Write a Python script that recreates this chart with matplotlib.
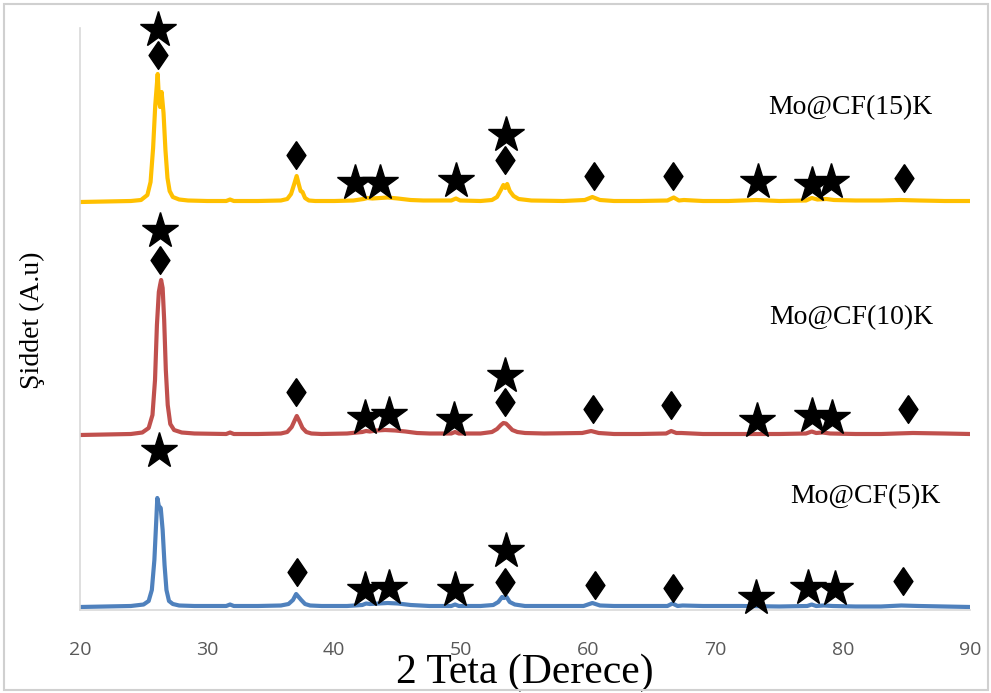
#!/usr/bin/env python3
"""XRD desenleri: Mo@CF(5)K, Mo@CF(10)K, Mo@CF(15)K (kaydirilmis egriler)."""

import matplotlib
matplotlib.use("Agg")
import matplotlib.pyplot as plt
from matplotlib.patches import Rectangle

# --- veriler (keyfi birim) ---------------------------------------------------
x_15 = [20, 22, 24, 24.8, 25.3, 25.55, 25.75, 25.92, 26.11, 26.22, 26.3, 26.42,
        26.57, 26.72, 26.88, 27.05, 27.3, 27.8, 28.5, 30, 31.5, 31.8, 32.1, 34,
        35.8, 36.3, 36.6, 36.85, 37.04, 37.2, 37.35, 37.5, 37.7, 38.0, 38.5, 40,
        41.5, 42.3, 42.6, 43.0, 43.6, 44.2, 45, 46, 47, 49.2, 49.57, 49.9, 51.5,
        52.4, 52.8, 53.1, 53.3, 53.45, 53.6, 53.8, 54.1, 54.5, 55.5, 58, 59.7,
        60.3, 60.9, 62, 64, 66.2, 66.7, 67.1, 67.5, 69, 71, 73.2, 75, 77.1,
        77.55, 78.0, 78.7, 79.3, 81, 83, 84.5, 86, 88, 90]
y_15 = [408, 408.5, 409, 410, 415, 428, 462, 505, 536, 508, 503, 518,
        497, 460, 432, 419, 413, 410.5, 409.5, 409, 409, 410.5, 409, 409,
        409.5, 411, 416, 426, 434, 426, 419, 418, 412, 409.5, 409, 409,
        409.5, 411, 412, 411.5, 412, 412.5, 411.5, 410, 409.5, 409.5, 411.5, 409.5, 409,
        410, 413, 420, 425, 422, 426, 419, 414, 411, 409.5, 409, 410,
        413, 410, 409, 409, 409.5, 412.5, 409.5, 410, 409, 409, 410, 409, 409.5,
        412, 410.5, 411, 410, 409.5, 409.5, 410, 409.5, 409, 409]

x_10 = [20, 22, 24, 24.9, 25.4, 25.7, 25.9, 26.05, 26.2, 26.3, 26.38, 26.5,
        26.62, 26.75, 26.9, 27.1, 27.4, 28, 29, 31.5, 31.8, 32.1, 34, 35.8,
        36.3, 36.65, 36.9, 37.05, 37.25, 37.5, 37.8, 38.2, 39, 41, 42.2, 42.5,
        42.8, 43.3, 44.0, 44.8, 45.6, 46.5, 47.5, 49.2, 49.5, 49.8, 51.5, 52.4,
        52.8, 53.1, 53.3, 53.5, 53.7, 54.0, 54.4, 55, 56.5, 59.5, 60.2, 60.8,
        62, 64, 66.1, 66.5, 66.9, 67.3, 69, 72, 75, 77.1, 77.55, 77.9,
        78.4, 79, 81, 83, 84.2, 85.5, 88, 90]
y_10 = [175, 175.5, 176, 177.5, 182, 195, 230, 285, 318, 325, 330, 322,
        290, 240, 205, 186, 180, 177.5, 176.5, 176, 177.5, 176, 176, 176.5,
        178, 183, 190, 194, 189, 182, 178, 176.5, 176, 176.5, 178, 179,
        178.5, 179.5, 180, 179.5, 178.5, 177, 176.5, 176.5, 178, 176.5, 176.5, 178,
        181, 185, 187, 186.5, 184, 180, 178, 177, 176.5, 177, 179, 177,
        176, 176, 176.5, 179, 177, 177, 176, 176, 176, 176.5, 178.5, 177,
        177.5, 176.5, 176, 176, 176.5, 177, 176.5, 176]

x_5 = [20, 22, 24, 25.0, 25.4, 25.65, 25.85, 26.0, 26.08, 26.2, 26.35, 26.5,
       26.65, 26.8, 27.0, 27.3, 27.8, 29, 31.5, 31.8, 32.1, 34, 35.8, 36.4,
       36.75, 37.0, 37.2, 37.4, 37.7, 38.1, 39, 41, 42.2, 42.5, 42.8, 43.5,
       44.2, 45, 46, 47.5, 49.2, 49.5, 49.8, 51.5, 52.5, 52.9, 53.2, 53.35,
       53.55, 53.8, 54.2, 55, 57, 59.6, 60.3, 60.9, 62, 64, 66.2, 66.6,
       67.0, 67.4, 69, 72, 75, 77.2, 77.55, 77.9, 78.5, 79.2, 81, 83,
       84.6, 86, 88, 90]
y_5 = [3, 3.5, 4, 5.5, 9, 20, 50, 90, 112, 104, 102, 80,
       45, 20, 9, 6, 4.5, 4, 4, 5.5, 4, 4, 4.5, 6,
       10, 16, 13, 10, 6, 4.5, 4, 4, 5, 6.5, 6, 6.5,
       7, 6.5, 5, 4, 4, 5.5, 4, 4, 5, 8, 13, 12,
       13, 8, 5.5, 4, 4, 4, 7, 4.5, 4, 4, 4, 6.5,
       4, 4.5, 4, 4, 3.5, 4, 5.5, 4, 4.5, 4, 3.5, 3.5,
       4.5, 4, 3.5, 3]

# isaretler (yildiz / elmas) - konumlar resimden
star_x = [26.17, 41.63, 43.6, 49.57, 53.5, 73.33, 77.57, 79.07,
          26.29, 42.42, 44.3, 49.42, 53.43, 73.25, 77.57, 79.15,
          26.21, 42.42, 44.3, 49.5, 53.5, 73.17, 77.26, 79.38]
star_y = [580, 427, 427, 429, 475, 428, 425, 428,
          379, 192, 195, 190, 234, 189, 194, 192,
          159, 20, 22, 20, 59, 12, 22, 21]
dia_x = [26.13, 36.99, 53.43, 60.43, 66.65, 84.81,
         26.29, 36.99, 53.43, 60.35, 66.49, 85.12,
         37.07, 53.43, 60.5, 66.65, 84.73]
dia_y = [555, 455, 450, 434, 434, 432,
         350, 218, 208, 201, 205, 201,
         38, 28, 25, 22, 29]

labels = ["Mo@CF(15)K", "Mo@CF(10)K", "Mo@CF(5)K"]
label_x = [80.56, 80.64, 81.8]
label_y = [502, 292, 113]

x_ticks = [20, 30, 40, 50, 60, 70, 80, 90]

# --- cizim --------------------------------------------------------------------
fig = plt.figure(figsize=(9.91, 6.93), dpi=100)
ax = fig.add_axes([80 / 991, 83 / 693, 890 / 991, 582 / 693])

ax.plot(x_15, y_15, color='#FFC000', lw=3.0, solid_capstyle='round')
ax.plot(x_10, y_10, color='#C0504D', lw=3.0, solid_capstyle='round')
ax.plot(x_5, y_5, color='#4F81BD', lw=3.0, solid_capstyle='round')

diamond = [(0, 1), (0.68, 0), (0, -1), (-0.68, 0), (0, 1)]
ax.plot(star_x, star_y, ls='none', marker='*', ms=27.5, color='black',
        clip_on=False, zorder=5)
ax.plot(dia_x, dia_y, ls='none', marker=diamond, ms=20, color='black',
        clip_on=False, zorder=5)

for txt, lx, ly in zip(labels, label_x, label_y):
    ax.text(lx, ly, txt, ha='center', va='center', fontsize=20,
            family='Liberation Serif', color='black')

ax.set_xlim(20, 90)
ax.set_ylim(0, 582)
ax.set_xticks(x_ticks)
ax.set_yticks([])
ax.tick_params(axis='x', length=0, pad=22, labelsize=14, labelcolor='#595959')
for lbl in ax.get_xticklabels():
    lbl.set_family('Open Sans')

for side in ('top', 'right'):
    ax.spines[side].set_visible(False)
for side in ('left', 'bottom'):
    ax.spines[side].set_color('#D9D9D9')
    ax.spines[side].set_linewidth(1.2)

ax.set_xlabel("2 Teta (Derece)", fontsize=30, family='Liberation Serif',
              va='center')
ax.xaxis.set_label_coords(0.5, -0.107)
ax.set_ylabel("Şiddet (A.u)", fontsize=20, family='Liberation Serif')
ax.yaxis.set_label_coords(-0.039, 0.498)

# cerceve
fig.patches.append(Rectangle((4 / 991, 3 / 693), 984 / 991, 686 / 693,
                             transform=fig.transFigure, fill=False,
                             edgecolor='#D0D0D0', lw=1.5))

fig.savefig("out.png", dpi=100)
